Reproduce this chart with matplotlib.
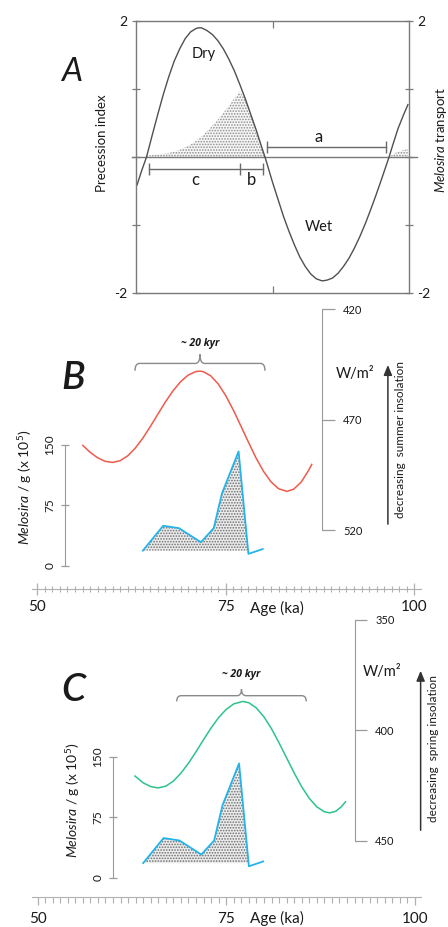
import matplotlib
matplotlib.use('Agg')
import matplotlib.pyplot as plt
from matplotlib.path import Path
from matplotlib.patches import PathPatch
from matplotlib.ticker import MultipleLocator

plt.rcParams['font.family'] = ['Lato', 'DejaVu Sans']
plt.rcParams['mathtext.fontset'] = 'custom'
plt.rcParams['mathtext.rm'] = 'Lato'
plt.rcParams['mathtext.it'] = 'Lato:italic'
plt.rcParams['hatch.linewidth'] = 0.8

W, H = 448, 927

# ---------------- data ----------------
# Panel A: precession index (schematic) and Melosira transport
prec_x = [0.4, 2, 3.85, 6, 8, 10, 12, 14, 16, 18, 20, 22, 23, 24, 26, 28, 30, 32, 34, 36, 38,
          40, 42, 44, 46, 47.25, 48, 50, 52, 54, 56, 58, 60, 62, 64, 66, 68, 68.6, 70, 72, 74,
          76, 78, 80, 82, 84, 86, 88, 90, 92.7, 94, 96, 98, 99.6]
prec_y = [-0.41, -0.21, 0, 0.33, 0.63, 0.92, 1.18, 1.41, 1.59, 1.74, 1.84, 1.89, 1.90, 1.90,
          1.86, 1.80, 1.71, 1.59, 1.44, 1.27, 1.07, 0.86, 0.63, 0.40, 0.15, 0, -0.10, -0.37,
          -0.62, -0.87, -1.09, -1.29, -1.47, -1.61, -1.72, -1.79, -1.82, -1.82, -1.81, -1.78,
          -1.71, -1.61, -1.49, -1.34, -1.17, -0.98, -0.77, -0.55, -0.32, 0, 0.17, 0.42, 0.62, 0.77]
transport_x = [3.85, 6, 9, 12, 15, 18, 21, 24, 27, 30, 33, 36, 38, 40, 42, 44, 46, 47.25]
transport_y = [0.02, 0.03, 0.04, 0.06, 0.09, 0.14, 0.21, 0.30, 0.42, 0.55, 0.70, 0.86, 0.96,
               0.86, 0.63, 0.40, 0.15, 0.0]
transport2_x = [92.7, 95, 97, 99.6]
transport2_y = [0.0, 0.06, 0.09, 0.12]
prec_ticks = [-2, -1, 0, 1, 2]
prec_ticklabels = ['-2', '', '', '', '2']
# intervals a, b, c (x-start, x-end, level)
interval_a = [47.9, 91.5]
interval_cb = [4.8, 38.1, 46.6]
level_a, level_cb = 0.15, -0.18

# Panels B & C: Melosira counts (x 10^5 per g) vs age (ka)
melosira_age = [64.0, 66.7, 68.8, 71.7, 73.4, 74.5, 76.7, 78.0, 79.9]
melosira_count = [18.5, 49.5, 46.5, 29.0, 46.5, 90.0, 142.0, 14.5, 20.5]
melosira_ticks = [0, 75, 150]

# Panel B: summer insolation (W/m2)
summer_age = [56.05, 57, 58, 59, 60, 61, 62, 63, 64, 65, 66, 67, 68, 69, 70, 71, 71.55, 72, 73,
              74, 75, 76, 77, 78, 79, 80, 81, 82, 83.1, 84, 85, 86, 86.4]
summer_wm2 = [481.7, 484.8, 487.3, 488.9, 489.4, 488.6, 486.4, 482.9, 478.4, 473.1, 467.5,
              462.0, 457.0, 452.9, 449.9, 448.3, 448.1, 448.3, 450.2, 453.9, 459.2, 465.7,
              472.9, 480.2, 487.3, 493.4, 498.2, 501.3, 502.5, 501.5, 498.3, 492.9, 490.3]
summer_ticks = [420, 470, 520]

# Panel C: spring insolation (W/m2)
spring_age = [62.9, 64, 65, 65.96, 67, 68, 69, 70, 71, 72, 73, 74, 75, 76, 77.2, 78, 79, 80,
              81, 82, 83, 84, 85, 86, 87, 88, 88.7, 89.5, 90.2, 90.8]
spring_wm2 = [420.7, 423.8, 425.5, 426.1, 425.3, 423.0, 419.4, 414.9, 409.7, 404.2, 398.9,
              394.2, 390.5, 388.0, 386.9, 387.5, 389.9, 393.9, 399.3, 405.7, 412.5, 419.3,
              425.6, 430.8, 434.7, 436.9, 437.4, 436.7, 434.8, 432.4]
spring_ticks = [350, 400, 450]

age_ticks = [50, 75, 100]

# ---------------- styling ----------------
AX_GRAY = '#9a9a9a'
BOX_GRAY = '#7a7a7a'
TXT = '#1a1a1a'
RED = '#f05a4c'
GREEN = '#2cc48a'
BLUE = '#25b4ea'

fig = plt.figure(figsize=(W / 100, H / 100), dpi=100)


def rect(x0, y0, x1, y1):
    return [x0 / W, 1 - y1 / H, (x1 - x0) / W, (y1 - y0) / H]


def ftext(px, py, s, **kw):
    kw.setdefault('ha', 'center')
    kw.setdefault('va', 'center')
    kw.setdefault('color', TXT)
    fig.text(px / W, 1 - py / H, s, **kw)


def brace(ax, x0, x1, y_end, y_bar, y_tip, r, color='#8a8a8a'):
    xc = (x0 + x1) / 2
    verts = [(x0, y_end), (x0, y_bar), (x0 + r, y_bar), (xc - r, y_bar), (xc, y_bar), (xc, y_tip),
             (xc, y_bar), (xc + r, y_bar), (x1 - r, y_bar), (x1, y_bar), (x1, y_end)]
    codes = [Path.MOVETO, Path.CURVE3, Path.CURVE3, Path.LINETO, Path.CURVE3, Path.CURVE3,
             Path.CURVE3, Path.CURVE3, Path.LINETO, Path.CURVE3, Path.CURVE3]
    ax.add_patch(PathPatch(Path(verts, codes), facecolor='none', edgecolor=color, lw=1.0))


# ================= Panel A =================
axA = fig.add_axes(rect(136, 21, 409, 293))
axA.set_xlim(0, 100)
axA.set_ylim(-2, 2)
for s in axA.spines.values():
    s.set_color(BOX_GRAY)
    s.set_linewidth(1.0)
axA.fill_between(transport_x, transport_y, 0, facecolor='#f7f7f7', edgecolor='#8e8e8e',
                 hatch='......', linewidth=0)
axA.fill_between(transport2_x, transport2_y, 0, facecolor='#f7f7f7', edgecolor='#8e8e8e',
                 hatch='......', linewidth=0)
axA.axhline(0, xmin=-0.015, xmax=1.03, color=BOX_GRAY, lw=1.0, clip_on=False)
axA.plot(prec_x, prec_y, color='#505050', lw=1.0)
axA.set_yticks(prec_ticks)
axA.set_yticklabels(prec_ticklabels)
axA.tick_params(axis='y', direction='inout', length=6, width=0.9, color=BOX_GRAY,
                left=True, right=True, labelleft=True, labelright=True, labelsize=10,
                labelcolor=TXT, pad=3)
axA.set_xticks([50])
axA.tick_params(axis='x', direction='in', length=5, width=0.9, color=BOX_GRAY,
                top=True, bottom=True, labelbottom=False)
# intervals
axA.plot(interval_a, [level_a] * 2, color='#6a6a6a', lw=1.0, marker='|', ms=8, mew=1.0)
axA.plot(interval_cb, [level_cb] * 3, color='#6a6a6a', lw=1.0, marker='|', ms=8, mew=1.0)
axA.text(66.8, 0.30, 'a', ha='center', va='center', fontsize=12, color=TXT)
axA.text(21.6, -0.34, 'c', ha='center', va='center', fontsize=12, color=TXT)
axA.text(42.4, -0.34, 'b', ha='center', va='center', fontsize=12, color=TXT)
axA.text(24.7, 1.51, 'Dry', ha='center', va='center', fontsize=10.5, color=TXT)
axA.text(67.0, -1.03, 'Wet', ha='center', va='center', fontsize=10.5, color=TXT)

ftext(72, 72, 'A', fontsize=24, style='italic')
ftext(102, 143, 'Precession index', rotation=90, fontsize=9.5)
ftext(441, 140, r'$\it{Melosira}$ transport', rotation=90, fontsize=9.5)


# ================= Panels B & C =================
def panel(top, axis_y, xlim, mel_ylim, ins_ylim, mel_spine_age, ins_spine_age,
          ins_age, ins_val, ins_color, ins_ticks, tick_dir, brace_args, kyr_y,
          arrow_age, arrow_y0, arrow_y1, ins_pad, ins_len):
    ax = fig.add_axes(rect(31.7, top, 421, axis_y))
    ax.patch.set_alpha(0)
    ax.set_xlim(*xlim)
    ax.set_ylim(*mel_ylim)
    for s in ['top', 'right']:
        ax.spines[s].set_visible(False)
    ax.spines['bottom'].set_color('#b0b0b0')
    ax.spines['left'].set_color(AX_GRAY)
    ax.spines['left'].set_position(('data', mel_spine_age))
    ax.spines['left'].set_bounds(0, 150)
    ax.set_xticks(age_ticks)
    ax.xaxis.set_minor_locator(MultipleLocator(1))
    if tick_dir == 'inout':
        ax.tick_params(axis='x', which='major', direction='inout', length=8, width=0.9,
                       color='#b0b0b0', labelsize=11, labelcolor=TXT, pad=4)
        ax.tick_params(axis='x', which='minor', direction='inout', length=4.5, width=0.8,
                       color='#b0b0b0')
    else:
        ax.tick_params(axis='x', which='major', direction='out', length=6, width=0.9,
                       color='#b0b0b0', labelsize=11, labelcolor=TXT, pad=5)
        ax.tick_params(axis='x', which='minor', direction='out', length=4.3, width=0.8,
                       color='#b0b0b0')
    ax.set_yticks(melosira_ticks)
    ax.tick_params(axis='y', direction='inout', length=6, width=0.9, color=AX_GRAY,
                   labelsize=8.5, labelrotation=90, labelcolor=TXT, pad=4)
    for lab in ax.get_yticklabels():
        lab.set_va('center')
    base = melosira_count[0]
    ax.fill_between(melosira_age, melosira_count, base,
                    where=[(c >= base) and (a <= 78) for a, c in zip(melosira_age, melosira_count)],
                    interpolate=True, facecolor='#ececec', edgecolor='#6e6e6e',
                    hatch='......', linewidth=0)
    ax.plot(melosira_age, melosira_count, color=BLUE, lw=1.3)

    ax2 = ax.twinx()
    ax2.patch.set_alpha(0)
    ax2.set_ylim(*ins_ylim)
    for s in ['top', 'left', 'bottom']:
        ax2.spines[s].set_visible(False)
    ax2.spines['right'].set_color(AX_GRAY)
    ax2.spines['right'].set_position(('data', ins_spine_age))
    ax2.spines['right'].set_bounds(ins_ticks[0], ins_ticks[-1])
    ax2.set_yticks(ins_ticks)
    ax2.tick_params(axis='y', direction='out', length=ins_len, width=0.9, color=AX_GRAY,
                    labelsize=8, labelcolor=TXT, pad=ins_pad)
    ax2.plot(ins_age, ins_val, color=ins_color, lw=1.1)
    brace(ax2, *brace_args)
    ax2.text((brace_args[0] + brace_args[1]) / 2, kyr_y, '~ 20 kyr', ha='center', va='center',
             fontsize=7.5, fontweight='bold', style='italic', color=TXT,
             family=['Open Sans', 'DejaVu Sans'])
    ax2.annotate('', xy=(arrow_age, arrow_y1), xytext=(arrow_age, arrow_y0),
                 arrowprops=dict(arrowstyle='-|>,head_length=0.6,head_width=0.25',
                                 color='#333333', lw=1.1, shrinkA=0, shrinkB=0))
    return ax, ax2


# Panel B
panel(300, 589.3, (49.26, 100.89), (-29.6, 330.5), (546.8, 415.9), 53.7, 87.7,
      summer_age, summer_wm2, RED, summer_ticks, 'inout',
      (62.96, 80.2, 447.9, 444.6, 440.5, 0.6), 435.5,
      96.5, 517.3, 445.3, 6, 9.5)
ftext(73, 378, 'B', fontsize=28, style='italic', fontweight='semibold')
ftext(355, 374, 'W/m²', fontsize=10.5)
ftext(400, 440, 'decreasing  summer insolation', rotation=90, fontsize=8.5)
ftext(25, 487, r'$\it{Melosira}$ / g (x 10$^5$)', rotation=90, fontsize=10)
ftext(277, 608, 'Age (ka)', fontsize=11)

# Panel C
panel(620, 896.7, (49.23, 100.8), (-23.2, 319.8), (475.4, 350.45), 60.0, 92.05,
      spring_age, spring_wm2, GREEN, spring_ticks, 'out',
      (68.44, 85.6, 386.9, 384.3, 381.3, 0.6), 374.5,
      100.75, 445.3, 373.0, 6, 8.5)
ftext(73, 690, 'C', fontsize=28, style='italic', fontweight='semibold')
ftext(382, 672, 'W/m²', fontsize=10.5)
ftext(433, 748, 'decreasing  spring insolation', rotation=90, fontsize=8.5)
ftext(73, 800, r'$\it{Melosira}$ / g (x 10$^5$)', rotation=90, fontsize=10)
ftext(277, 918, 'Age (ka)', fontsize=11)

fig.savefig('out.png', dpi=100)
